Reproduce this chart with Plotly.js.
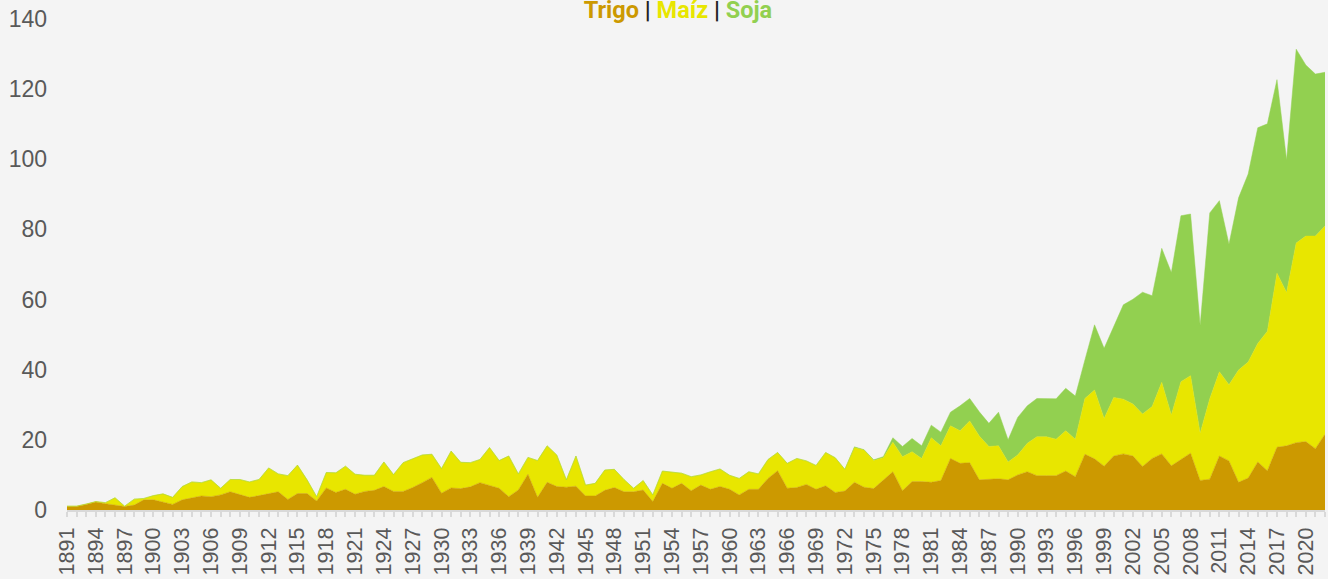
<!DOCTYPE html>
<html>
<head>
<meta charset="utf-8">
<script src="https://cdn.plot.ly/plotly-3.0.1.min.js"></script>
<style>
  html, body { margin: 0; padding: 0; background: #f4f4f4; }
  #chart { width: 1328px; height: 579px; }
</style>
</head>
<body>
<div id="chart"></div>
<script>
// Years (categories) 1891–2022
const FIRST_YEAR = 1891;
const LAST_YEAR = 2022;
const years = [];
for (let y = FIRST_YEAR; y <= LAST_YEAR; y++) years.push(y);

// Trigo (wheat)
const trigo = [
  1.0, 1.0, 1.6, 2.3, 1.8, 1.3, 1.0, 1.4, 2.9,            // 1891-1899
  2.9, 2.2, 1.6, 2.9, 3.5, 4.0, 3.8, 4.3, 5.2, 4.3,       // 1900-1909
  3.6, 4.1, 4.6, 5.2, 3.0, 4.7, 4.7, 2.6, 6.3, 5.0,       // 1910-1919
  5.9, 4.5, 5.3, 5.6, 6.7, 5.3, 5.3, 6.4, 7.8, 9.3,       // 1920-1929
  4.8, 6.3, 6.1, 6.6, 7.8, 7.0, 6.2, 3.8, 5.7, 10.2,      // 1930-1939
  3.6, 7.9, 6.7, 6.5, 6.8, 4.0, 4.0, 5.6, 6.4, 5.2,       // 1940-1949
  5.2, 5.7, 2.4, 7.6, 6.2, 7.6, 5.5, 7.1, 5.9, 6.7,       // 1950-1959
  5.9, 4.3, 5.9, 5.9, 9.0, 11.2, 6.2, 6.4, 7.3, 5.9,      // 1960-1969
  6.9, 5.0, 5.4, 7.9, 6.5, 6.1, 8.6, 10.9, 5.5, 8.1,      // 1970-1979
  8.1, 7.9, 8.4, 14.7, 13.3, 13.5, 8.6, 8.7, 8.9, 8.6,    // 1980-1989
  10.0, 10.9, 9.8, 9.8, 9.8, 11.1, 9.5, 15.9, 14.6, 12.5, // 1990-1999
  15.4, 16.0, 15.4, 12.4, 14.7, 16.0, 12.6, 14.4, 16.2, 8.4, // 2000-2009
  8.8, 15.4, 14.0, 7.9, 9.1, 13.7, 11.2, 17.9, 18.3, 19.2,   // 2010-2019
  19.5, 17.5, 21.6                                           // 2020-2022
];

// Maíz (maize)
const maiz = [
  0.1, 0.1, 0.1, 0.1, 0.3, 2.2, 0.1, 1.7, 0.4,            // 1891-1899
  1.2, 2.4, 2.0, 3.8, 4.5, 3.8, 4.8, 1.9, 3.5, 4.4,       // 1900-1909
  4.4, 4.6, 7.4, 5.1, 6.8, 8.1, 3.9, 1.2, 4.4, 5.6,       // 1910-1919
  6.6, 5.7, 4.6, 4.3, 7.0, 4.8, 8.2, 8.2, 7.9, 6.6,       // 1920-1929
  7.0, 10.5, 7.5, 6.9, 6.6, 10.8, 7.9, 11.6, 4.6, 4.8,    // 1930-1939
  10.5, 10.4, 9.0, 2.1, 8.6, 3.1, 3.6, 5.8, 5.2, 3.5,     // 1940-1949
  1.0, 2.7, 1.9, 3.5, 4.5, 2.9, 4.0, 2.9, 5.0, 5.0,       // 1950-1959
  4.0, 4.7, 5.0, 4.4, 5.4, 5.2, 7.1, 8.3, 6.7, 6.8,       // 1960-1969
  9.5, 9.9, 6.2, 9.9, 10.6, 8.0, 6.3, 8.4, 9.7, 8.5,      // 1970-1979
  6.6, 12.7, 9.9, 9.3, 9.3, 11.9, 12.5, 9.4, 9.4, 5.1,    // 1980-1989
  5.7, 8.1, 11.1, 11.1, 10.4, 11.5, 10.7, 15.9, 19.6, 13.6, // 1990-1999
  16.7, 15.6, 14.8, 15.0, 14.8, 20.4, 14.5, 22.2, 22.1, 13.5, // 2000-2009
  22.9, 24.0, 21.7, 32.0, 33.1, 33.8, 39.8, 49.6, 43.7, 56.9, // 2010-2019
  58.6, 60.6, 59.4                                            // 2020-2022
];

// Soja (soybean)
const soja = [
  0, 0, 0, 0, 0, 0, 0, 0, 0,                               // 1891-1899
  0, 0, 0, 0, 0, 0, 0, 0, 0, 0,                            // 1900-1909
  0, 0, 0, 0, 0, 0, 0, 0, 0, 0,                            // 1910-1919
  0, 0, 0, 0, 0, 0, 0, 0, 0, 0,                            // 1920-1929
  0, 0, 0, 0, 0, 0, 0, 0, 0, 0,                            // 1930-1939
  0, 0, 0, 0, 0, 0, 0, 0, 0, 0,                            // 1940-1949
  0, 0, 0, 0, 0, 0, 0, 0, 0, 0,                            // 1950-1959
  0, 0, 0, 0, 0, 0, 0, 0, 0, 0,                            // 1960-1969
  0, 0, 0, 0.2, 0.1, 0.2, 0.3, 1.3, 2.9, 3.8,              // 1970-1979
  3.6, 3.6, 3.9, 3.9, 7.1, 6.4, 6.9, 6.6, 9.6, 6.3,        // 1980-1989
  10.7, 10.7, 10.9, 10.8, 11.5, 12.1, 12.3, 11.0, 18.6, 20.0, // 1990-1999
  20.2, 26.9, 29.9, 34.7, 31.6, 38.2, 40.6, 47.3, 46.1, 30.7, // 2000-2009
  53.0, 48.8, 40.1, 49.1, 53.6, 61.5, 59.1, 55.2, 37.8, 55.3, // 2010-2019
  48.8, 46.2, 43.8                                            // 2020-2022
];

const COLORS = { trigo: '#CC9900', maiz: '#E8E600', soja: '#92D050' };

const traces = [
  { name: 'Trigo', x: years, y: trigo, color: COLORS.trigo },
  { name: 'Maíz', x: years, y: maiz, color: COLORS.maiz },
  { name: 'Soja', x: years, y: soja, color: COLORS.soja }
].map(s => ({
  type: 'scatter',
  mode: 'lines',
  name: s.name,
  x: s.x,
  y: s.y,
  stackgroup: 'one',
  line: { width: 0.5, color: s.color },
  fillcolor: s.color,
  hoverinfo: 'x+y+name'
}));

const yTickFont = { family: 'Liberation Sans, Arial, sans-serif', size: 23, color: '#595959' };
const xTickFont = { family: 'Liberation Sans, Arial, sans-serif', size: 21.5, color: '#595959' };

const layout = {
  width: 1328,
  height: 579,
  paper_bgcolor: '#f4f4f4',
  plot_bgcolor: '#f4f4f4',
  showlegend: false,
  margin: { l: 67, r: 3, t: 19, b: 69 },
  title: {
    text: '<span style="color:#CC9900">Trigo</span> <span style="color:#222222">|</span> ' +
          '<span style="color:#E8E600">Maíz</span> <span style="color:#222222">|</span> ' +
          '<span style="color:#92D050">Soja</span>',
    font: { family: 'Roboto, sans-serif', size: 23.5, weight: 'bold' },
    xref: 'container', x: 0.5105, xanchor: 'center',
    yref: 'container', y: 0.998, yanchor: 'top',
    pad: { t: 0, b: 0, l: 0, r: 0 }
  },
  xaxis: {
    type: 'linear',
    range: [FIRST_YEAR, LAST_YEAR],
    tick0: FIRST_YEAR,
    dtick: 3,
    tickangle: -90,
    ticks: 'outside',
    ticklen: 5,
    tickwidth: 2,
    tickcolor: '#d9d9d9',
    minor: { dtick: 1, ticks: 'outside', ticklen: 5, tickwidth: 2, tickcolor: '#d9d9d9', showgrid: false },
    showline: true,
    linecolor: '#d9d9d9',
    linewidth: 2,
    showgrid: false,
    zeroline: false,
    tickfont: xTickFont,
    ticklabelstandoff: 2,
    automargin: false,
    fixedrange: true
  },
  yaxis: {
    range: [0, 140],
    dtick: 20,
    tick0: 0,
    ticks: '',
    showgrid: false,
    zeroline: false,
    showline: false,
    tickfont: yTickFont,
    ticklabelstandoff: 19,
    automargin: false,
    fixedrange: true
  }
};

Plotly.newPlot('chart', traces, layout, { displayModeBar: false, staticPlot: true });
</script>
</body>
</html>
